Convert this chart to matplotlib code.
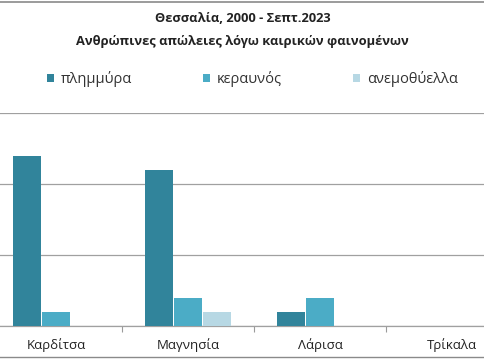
import numpy as np
import matplotlib
matplotlib.use("Agg")
import matplotlib.pyplot as plt
from matplotlib.patches import Patch

plt.rcParams['font.family'] = ['Open Sans', 'DejaVu Sans']

# δεδομένα
regions = ['Καρδίτσα', 'Μαγνησία', 'Λάρισα', 'Τρίκαλα']
series_names = ['πλημμύρα', 'κεραυνός', 'ανεμοθύελλα']
flood = [12, 11, 1, 0]
lightning = [1, 2, 2, 0]
storm = [0, 1, 0, 0]
series_colors = ['#31849B', '#4BACC6', '#B7D8E4']

fig = plt.figure(figsize=(4.85, 3.6), dpi=100)
W, H = 485, 360
# η περιοχή του γραφήματος είναι κομμένη αριστερά και δεξιά
ax = fig.add_axes([-10 / W, 1 - 326 / H, 528 / W, (326 - 113) / H])

x = np.arange(len(regions))
w = 0.217
for i, (vals, c) in enumerate(zip([flood, lightning, storm], series_colors)):
    ax.bar(x + (i - 1) * w, vals, width=w * 0.97, color=c, zorder=3)

ax.set_xlim(-0.5, len(regions) - 0.5)
ax.set_ylim(0, 15)
ax.set_yticks([0, 5, 10, 15])
ax.yaxis.grid(True, color='#a0a0a0', linewidth=0.9, zorder=0)
ax.tick_params(axis='y', left=False, labelleft=False)
for s in ['left', 'right', 'top']:
    ax.spines[s].set_visible(False)
ax.spines['bottom'].set_color('#a0a0a0')
ax.spines['bottom'].set_linewidth(0.9)

ax.set_xticks(x)
ax.set_xticklabels(regions, fontsize=9.5, color='#222222')
ax.tick_params(axis='x', which='major', length=0, pad=9)
ax.set_xticks(x[:-1] + 0.5, minor=True)
ax.tick_params(axis='x', which='minor', length=4, color='#9a9a9a', width=0.8)

fig.text(0.5, 1 - 19 / H, 'Θεσσαλία, 2000 - Σεπτ.2023', ha='center', va='center',
         fontsize=9.3, fontweight='bold', color='#222222')
fig.text(0.5, 1 - 41 / H, 'Ανθρώπινες απώλειες λόγω καιρικών φαινομένων', ha='center',
         va='center', fontsize=9.3, fontweight='bold', color='#222222')

handles = [Patch(facecolor=c) for c in series_colors]
fig.legend(handles, series_names, loc='center', ncol=3, frameon=False,
           bbox_to_anchor=(34 / W, 1 - 89 / H, 437 / W, 20 / H), mode='expand',
           fontsize=10.5, handlelength=0.45, handleheight=0.45, handletextpad=0.5,
           labelcolor='#333333')

# πλαίσιο (πάνω και κάτω γραμμή)
fig.add_artist(plt.Line2D([0, 1], [1 - 2 / H, 1 - 2 / H], color='#8a8a8a', linewidth=1.2))
fig.add_artist(plt.Line2D([0, 1], [1 - 357 / H, 1 - 357 / H], color='#8a8a8a', linewidth=1.0))

fig.savefig('out.png', dpi=100)
